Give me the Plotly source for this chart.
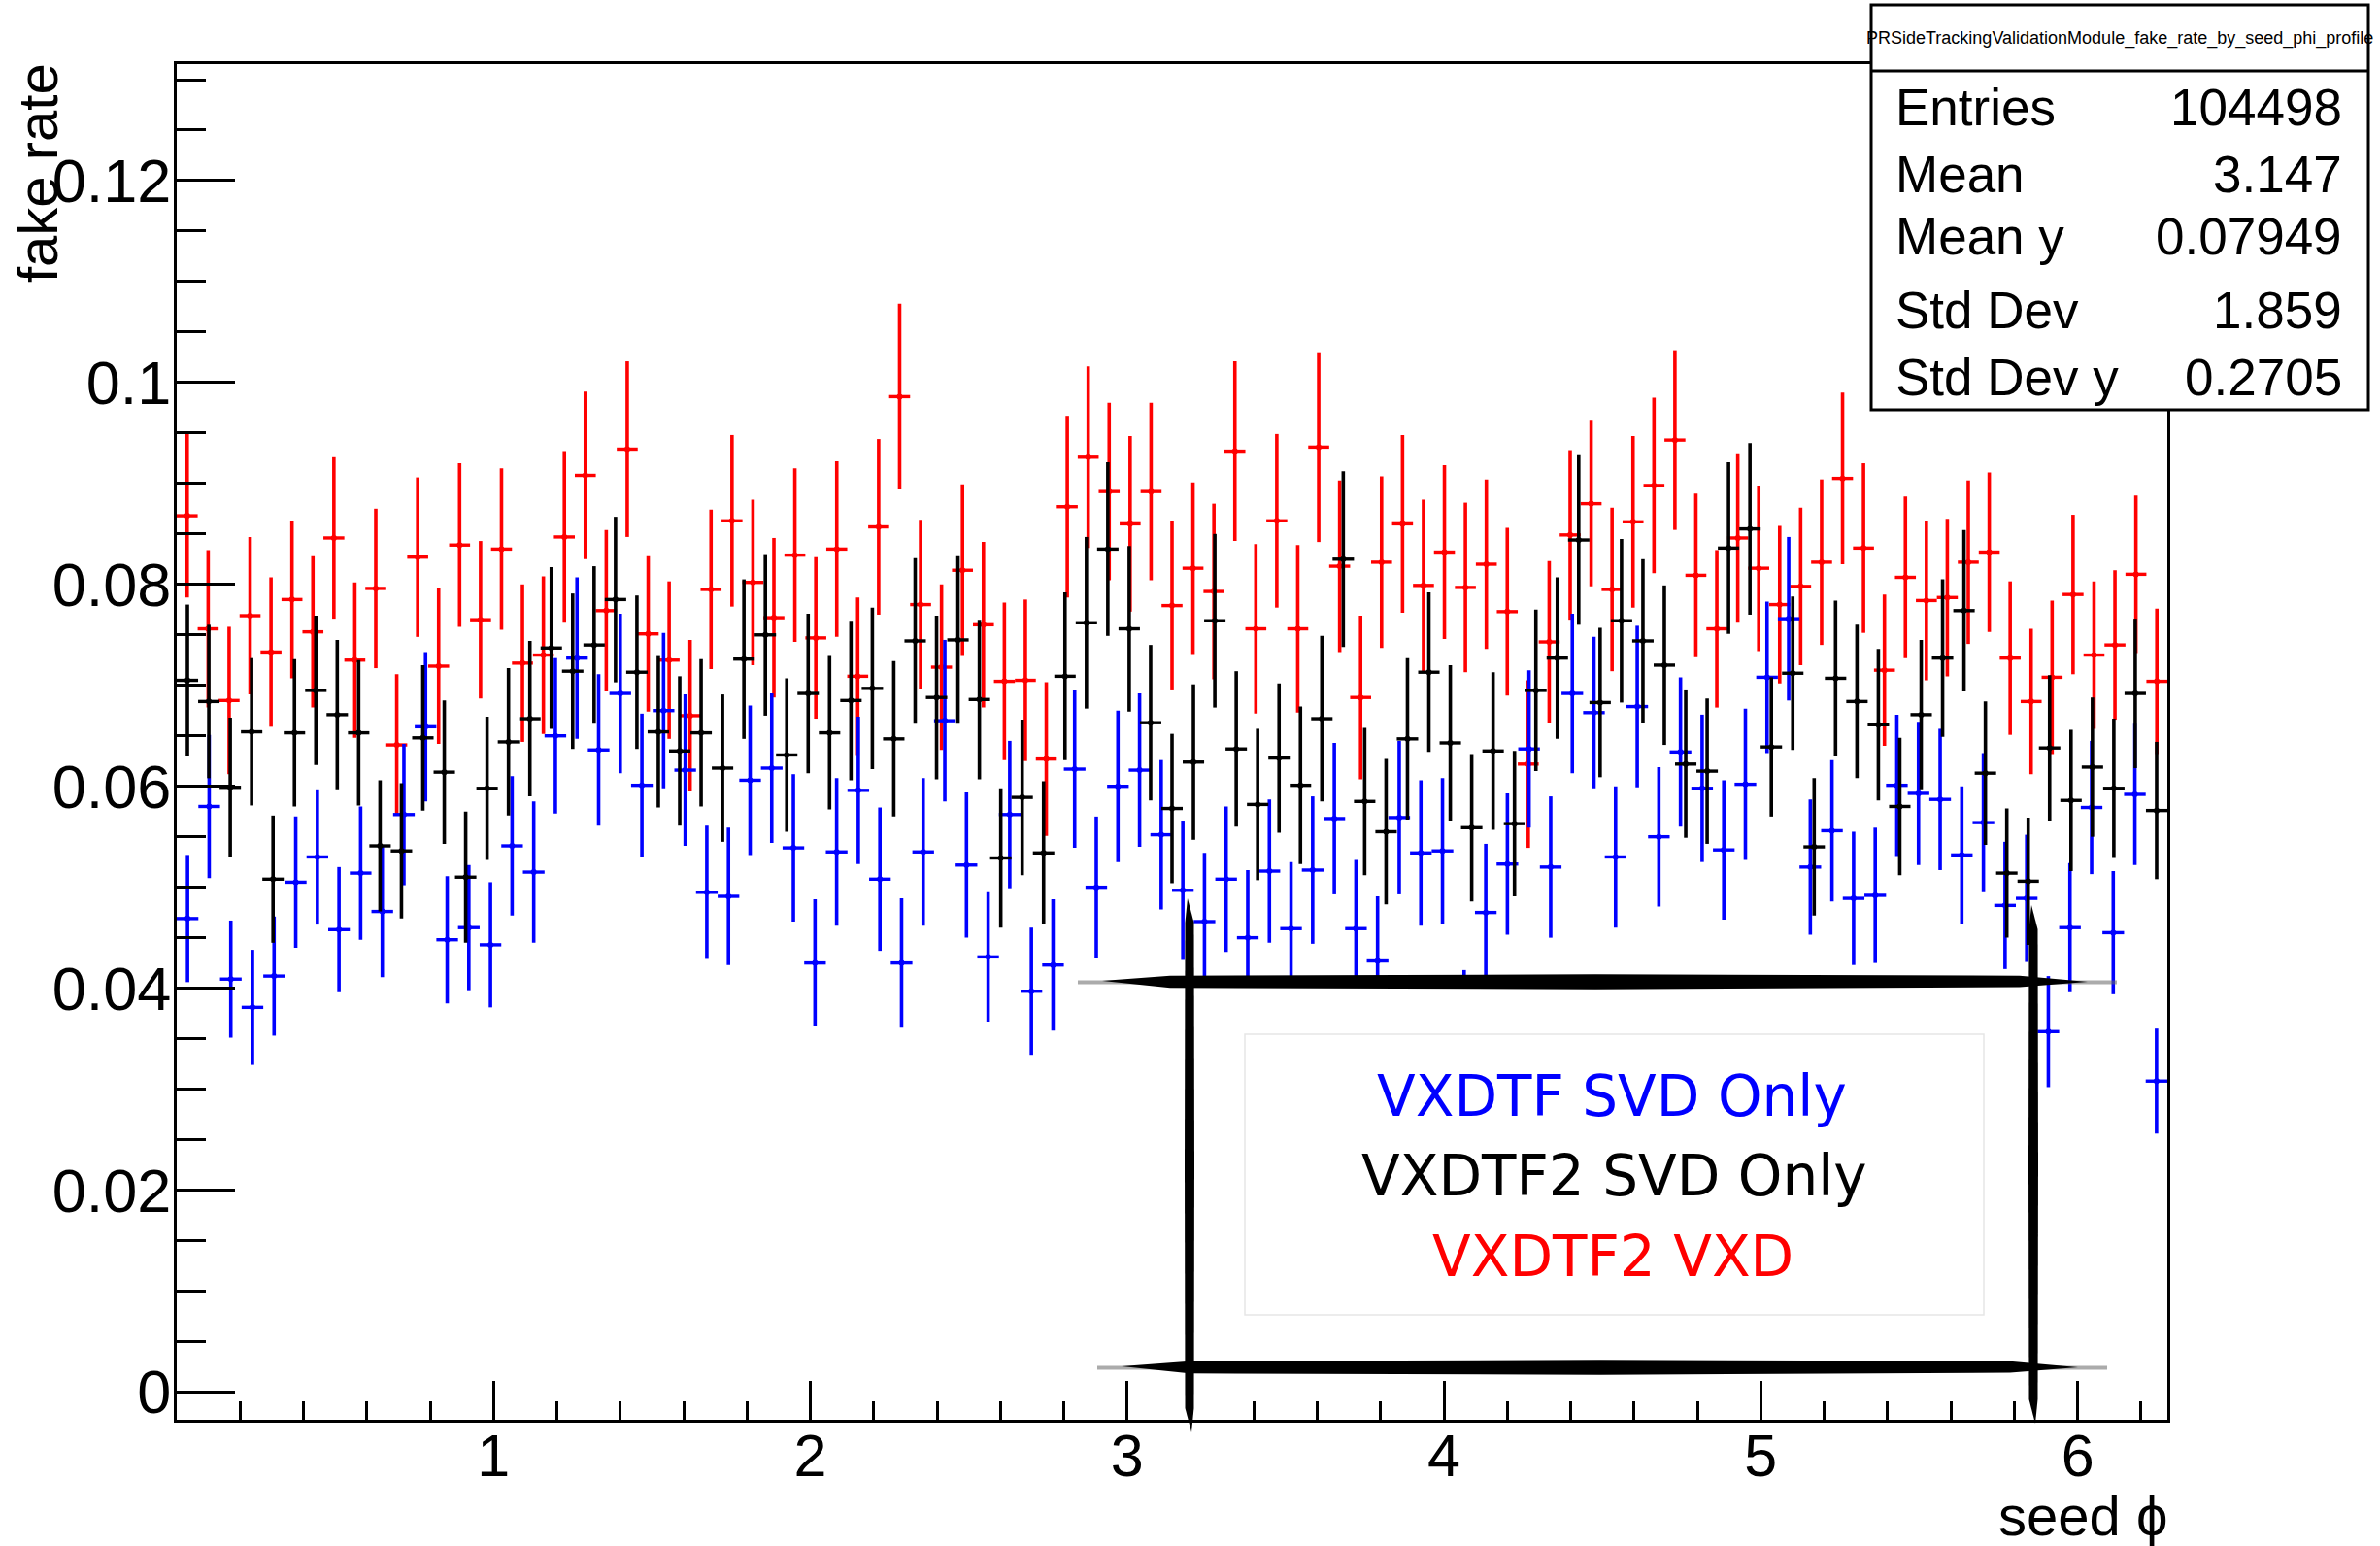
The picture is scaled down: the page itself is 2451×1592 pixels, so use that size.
import numpy as np
import plotly.graph_objects as go

# ---- profile contents: fake rate per seed-phi bin ----
PHI_MIN, PHI_MAX = 0.0, 2 * np.pi

red_name = "VXDTF2 VXD"
red_y = [0.0868, 0.0756, 0.0685, 0.0769, 0.0733, 0.0785, 0.0753, 0.0846, 0.0725, 0.0796,
         0.0641, 0.0827, 0.0719, 0.0839, 0.0765, 0.0835, 0.0722, 0.0730, 0.0847, 0.0908,
         0.0774, 0.0934, 0.0751, 0.0725, 0.0670, 0.0795, 0.0863, 0.0802, 0.0767, 0.0829,
         0.0747, 0.0835, 0.0709, 0.0857, 0.0986, 0.0780, 0.0718, 0.0814, 0.0760, 0.0704,
         0.0705, 0.0627, 0.0877, 0.0926, 0.0892, 0.0860, 0.0892, 0.0779, 0.0816, 0.0793,
         0.0932, 0.0756, 0.0863, 0.0756, 0.0936, 0.0818, 0.0688, 0.0822, 0.0860, 0.0799,
         0.0832, 0.0797, 0.0820, 0.0773, 0.0622, 0.0743, 0.0849, 0.0880, 0.0795, 0.0862,
         0.0898, 0.0943, 0.0809, 0.0756, 0.0846, 0.0816, 0.0780, 0.0798, 0.0822, 0.0905,
         0.0836, 0.0715, 0.0807, 0.0784, 0.0787, 0.0822, 0.0832, 0.0727, 0.0684, 0.0708,
         0.0790, 0.0730, 0.0740, 0.0810, 0.0704]
red_err = [0.0081, 0.0078, 0.0073, 0.0078, 0.0074, 0.0078, 0.0075, 0.0080, 0.0077, 0.0079,
           0.0070, 0.0079, 0.0077, 0.0081, 0.0078, 0.0080, 0.0078, 0.0078, 0.0085, 0.0083,
           0.0080, 0.0087, 0.0077, 0.0078, 0.0075, 0.0079, 0.0085, 0.0082, 0.0079, 0.0086,
           0.0080, 0.0087, 0.0078, 0.0087, 0.0092, 0.0084, 0.0082, 0.0085, 0.0082, 0.0078,
           0.0080, 0.0076, 0.0090, 0.0090, 0.0088, 0.0087, 0.0088, 0.0084, 0.0085, 0.0087,
           0.0089, 0.0084, 0.0086, 0.0083, 0.0094, 0.0085, 0.0081, 0.0085, 0.0088, 0.0085,
           0.0086, 0.0084, 0.0084, 0.0083, 0.0083, 0.0080, 0.0084, 0.0082, 0.0081, 0.0085,
           0.0087, 0.0089, 0.0081, 0.0078, 0.0084, 0.0082, 0.0078, 0.0078, 0.0082, 0.0085,
           0.0084, 0.0075, 0.0080, 0.0079, 0.0078, 0.0081, 0.0079, 0.0076, 0.0072, 0.0076,
           0.0079, 0.0073, 0.0074, 0.0078, 0.0072]

black_name = "VXDTF2 SVD Only"
black_y = [0.0705, 0.0684, 0.0599, 0.0654, 0.0508, 0.0653, 0.0695, 0.0671, 0.0653, 0.0541,
           0.0536, 0.0648, 0.0614, 0.0510, 0.0598, 0.0644, 0.0667, 0.0737, 0.0714, 0.0740,
           0.0785, 0.0713, 0.0654, 0.0635, 0.0653, 0.0618, 0.0726, 0.0750, 0.0631, 0.0692,
           0.0653, 0.0685, 0.0697, 0.0647, 0.0744, 0.0688, 0.0745, 0.0686, 0.0529, 0.0589,
           0.0534, 0.0709, 0.0762, 0.0835, 0.0756, 0.0663, 0.0578, 0.0624, 0.0764, 0.0637,
           0.0582, 0.0628, 0.0601, 0.0667, 0.0825, 0.0585, 0.0555, 0.0647, 0.0713, 0.0643,
           0.0559, 0.0635, 0.0563, 0.0695, 0.0727, 0.0844, 0.0683, 0.0764, 0.0744, 0.0720,
           0.0622, 0.0615, 0.0836, 0.0855, 0.0639, 0.0712, 0.0540, 0.0707, 0.0684, 0.0661,
           0.0580, 0.0671, 0.0727, 0.0774, 0.0613, 0.0514, 0.0506, 0.0638, 0.0586, 0.0619,
           0.0598, 0.0692, 0.0576]
black_err = [0.0075, 0.0076, 0.0069, 0.0073, 0.0063, 0.0073, 0.0074, 0.0074, 0.0072, 0.0065,
             0.0067, 0.0072, 0.0071, 0.0065, 0.0071, 0.0073, 0.0077, 0.0080, 0.0077, 0.0078,
             0.0082, 0.0076, 0.0075, 0.0074, 0.0073, 0.0073, 0.0079, 0.0080, 0.0076, 0.0079,
             0.0076, 0.0079, 0.0080, 0.0077, 0.0082, 0.0081, 0.0083, 0.0079, 0.0069, 0.0077,
             0.0071, 0.0083, 0.0085, 0.0086, 0.0082, 0.0077, 0.0074, 0.0077, 0.0086, 0.0077,
             0.0075, 0.0074, 0.0078, 0.0082, 0.0087, 0.0073, 0.0072, 0.0080, 0.0079, 0.0077,
             0.0073, 0.0078, 0.0072, 0.0080, 0.0080, 0.0084, 0.0074, 0.0081, 0.0081, 0.0079,
             0.0073, 0.0072, 0.0085, 0.0085, 0.0069, 0.0076, 0.0068, 0.0077, 0.0076, 0.0075,
             0.0068, 0.0074, 0.0078, 0.0080, 0.0071, 0.0064, 0.0063, 0.0072, 0.0070, 0.0069,
             0.0069, 0.0074, 0.0068]

blue_name = "VXDTF SVD Only"
blue_y = [0.0469, 0.0580, 0.0409, 0.0381, 0.0412, 0.0505, 0.0530, 0.0458, 0.0514, 0.0476,
          0.0572, 0.0659, 0.0448, 0.0460, 0.0443, 0.0541, 0.0515, 0.0650, 0.0727, 0.0636,
          0.0692, 0.0601, 0.0675, 0.0616, 0.0495, 0.0491, 0.0606, 0.0618, 0.0539, 0.0425,
          0.0535, 0.0596, 0.0508, 0.0425, 0.0535, 0.0665, 0.0522, 0.0431, 0.0572, 0.0397,
          0.0423, 0.0617, 0.0500, 0.0600, 0.0616, 0.0552, 0.0497, 0.0466, 0.0508, 0.0450,
          0.0516, 0.0459, 0.0517, 0.0568, 0.0459, 0.0427, 0.0569, 0.0534, 0.0536, 0.0355,
          0.0475, 0.0523, 0.0637, 0.0520, 0.0692, 0.0673, 0.0530, 0.0679, 0.0550, 0.0634,
          0.0598, 0.0537, 0.0602, 0.0708, 0.0766, 0.0520, 0.0556, 0.0489, 0.0492, 0.0601,
          0.0593, 0.0587, 0.0532, 0.0564, 0.0482, 0.0489, 0.0357, 0.0460, 0.0579, 0.0455,
          0.0592, 0.0308]
blue_err = [0.0063, 0.0071, 0.0058, 0.0057, 0.0059, 0.0065, 0.0067, 0.0062, 0.0066, 0.0065,
            0.0070, 0.0074, 0.0063, 0.0062, 0.0062, 0.0069, 0.0070, 0.0077, 0.0080, 0.0075,
            0.0079, 0.0071, 0.0077, 0.0075, 0.0066, 0.0068, 0.0074, 0.0074, 0.0073, 0.0063,
            0.0073, 0.0073, 0.0071, 0.0064, 0.0073, 0.0080, 0.0072, 0.0064, 0.0073, 0.0063,
            0.0065, 0.0078, 0.0070, 0.0075, 0.0076, 0.0074, 0.0069, 0.0068, 0.0072, 0.0067,
            0.0071, 0.0066, 0.0073, 0.0075, 0.0068, 0.0064, 0.0076, 0.0072, 0.0072, 0.0063,
            0.0068, 0.0070, 0.0078, 0.0070, 0.0079, 0.0075, 0.0070, 0.0080, 0.0069, 0.0074,
            0.0073, 0.0069, 0.0075, 0.0075, 0.0081, 0.0067, 0.0070, 0.0066, 0.0067, 0.0070,
            0.0071, 0.0070, 0.0068, 0.0069, 0.0063, 0.0063, 0.0055, 0.0064, 0.0066, 0.0061,
            0.0070, 0.0052]

# ---- axis ticks and statistics box ----
y_tickvals = [0, 0.02, 0.04, 0.06, 0.08, 0.10, 0.12]
y_ticktext = ["0", "0.02", "0.04", "0.06", "0.08", "0.1", "0.12"]
x_tickvals = [1, 2, 3, 4, 5, 6]
x_ticktext = ["1", "2", "3", "4", "5", "6"]

stats_title = "PRSideTrackingValidationModule_fake_rate_by_seed_phi_profile"
stats_labels = ["Entries", "Mean", "Mean y", "Std Dev", "Std Dev y"]
stats_values = ["104498", "3.147", "0.07949", "1.859", "0.2705"]

# ---- page geometry (pixels) ----
W_PAGE, H_PAGE = 2451, 1592
L, R, T, B = 182, 2232, 66, 1462
PW, PH = R - L, B - T


def px(x):
    return (x - L) / PW


def py(y):
    return (B - y) / PH


FONT = "Liberation Sans, Arial, Helvetica, sans-serif"
HAND = "Comic Sans MS, DejaVu Sans, sans-serif"


def profile_trace(values, errors, color, name):
    n = len(values)
    width = (PHI_MAX - PHI_MIN) / n
    centers = PHI_MIN + (np.arange(n) + 0.5) * width
    return go.Scatter(
        x=centers, y=values, name=name, mode="markers",
        marker=dict(size=0, color=color),
        error_y=dict(type="data", array=errors, color=color, thickness=3.6, width=0),
        error_x=dict(type="constant", value=width / 2, color=color, thickness=3.4, width=0),
        showlegend=False, hoverinfo="x+y",
    )


fig = go.Figure()
fig.add_trace(profile_trace(red_y, red_err, "#ff0000", red_name))
fig.add_trace(profile_trace(blue_y, blue_err, "#0000ff", blue_name))
fig.add_trace(profile_trace(black_y, black_err, "#000000", black_name))

shapes = []


def rect(x0, y0, x1, y1, **kw):
    shapes.append(dict(type="rect", xref="paper", yref="paper",
                       x0=px(x0), x1=px(x1), y0=py(y1), y1=py(y0), layer="above", **kw))


def poly(points, color="black", opacity=1.0):
    d = "M " + " L ".join(f"{px(a):.5f},{py(b):.5f}" for a, b in points) + " Z"
    shapes.append(dict(type="path", xref="paper", yref="paper", path=d,
                       fillcolor=color, line=dict(width=0), opacity=opacity, layer="above"))


def brush_h(xa, xb, y0, th):
    # rough horizontal marker stroke: faint thin tails plus a solid body
    poly([(xa - 25, y0 - 1.5), (xb + 30, y0 - 1.5), (xb + 30, y0 + 2.5), (xa - 25, y0 + 2.5)],
         color="#666", opacity=0.55)
    poly([(xa, y0 - 1), (xa + 70, y0 - th * 0.45), ((xa + xb) / 2, y0 - th * 0.55),
          (xb - 70, y0 - th * 0.45), (xb, y0), (xb - 70, y0 + th * 0.4),
          ((xa + xb) / 2, y0 + th * 0.55), (xa + 70, y0 + th * 0.45)])


def brush_v(x0, ya, yb, th):
    poly([(x0 - 2, ya), (x0 + th * 0.45, ya + 25), (x0 + th * 0.5, (ya + yb) / 2),
          (x0 + th * 0.45, yb - 25), (x0 + 2, yb), (x0 - th * 0.45, yb - 25),
          (x0 - th * 0.5, (ya + yb) / 2), (x0 - th * 0.45, ya + 25)])


# legend panel: opaque white card framed by hand-drawn strokes
rect(1225, 1010, 2094, 1408, fillcolor="white", line=dict(width=0))
rect(1282, 1065, 2043, 1354, fillcolor="rgba(0,0,0,0)", line=dict(color="#e6e6e6", width=1.5))
brush_h(1135, 2150, 1011, 14)
brush_h(1155, 2140, 1408, 14)
brush_v(1225, 925, 1475, 10)
brush_v(2094, 932, 1466, 10)

# statistics box
rect(1927, 5, 2439, 422, fillcolor="white", line=dict(color="black", width=3))
shapes.append(dict(type="line", xref="paper", yref="paper", x0=px(1927), x1=px(2439),
                   y0=py(73), y1=py(73), line=dict(color="black", width=3), layer="above"))

annotations = []


def text(x, y, s, size, color="black", xanchor="center", yanchor="middle", family=FONT, angle=0):
    annotations.append(dict(x=px(x), y=py(y), xref="paper", yref="paper", text=s,
                            showarrow=False, xanchor=xanchor, yanchor=yanchor,
                            textangle=angle, font=dict(family=family, size=size, color=color)))


text(2183, 39, stats_title, 18)
for lab, val, yy in zip(stats_labels, stats_values, [110, 180, 243, 320, 388]):
    text(1950, yy, lab, 53, xanchor="left")
    text(2414, yy, val, 53, xanchor="right")

# legend entries
text(1660, 1129, blue_name, 58, color="#0000ff", family=HAND)
text(1662, 1211, black_name, 58, color="#000000", family=HAND)
text(1661, 1294, red_name, 58, color="#ff0000", family=HAND)

# axis titles
text(38, 63, "fake rate", 58, xanchor="center", yanchor="top", angle=-90)
text(2234, 1560, "seed \u03d5", 58, xanchor="right")

axis_common = dict(showline=True, linewidth=3, linecolor="black", mirror=True,
                   showgrid=False, zeroline=False, ticks="inside", tickwidth=3,
                   tickcolor="black")

fig.update_layout(
    width=W_PAGE, height=H_PAGE, autosize=False,
    margin=dict(l=L, r=W_PAGE - R, t=T, b=H_PAGE - B, pad=0),
    paper_bgcolor="white", plot_bgcolor="white",
    xaxis=dict(range=[PHI_MIN, PHI_MAX], tickvals=x_tickvals, ticktext=x_ticktext,
               ticklen=40, ticklabelstandoff=-18,
               tickfont=dict(family=FONT, size=61, color="black"),
               minor=dict(dtick=0.2, tick0=0, ticklen=19, tickwidth=3, ticks="inside",
                          tickcolor="black", showgrid=False),
               **axis_common),
    yaxis=dict(range=[-0.00275, 0.13154], tickvals=y_tickvals, ticktext=y_ticktext,
               ticklen=60, ticklabelstandoff=-10,
               tickfont=dict(family=FONT, size=63, color="black"),
               minor=dict(dtick=0.005, tick0=0, ticklen=30, tickwidth=3, ticks="inside",
                          tickcolor="black", showgrid=False),
               **axis_common),
    shapes=shapes, annotations=annotations,
)

fig.write_html("out.html")
